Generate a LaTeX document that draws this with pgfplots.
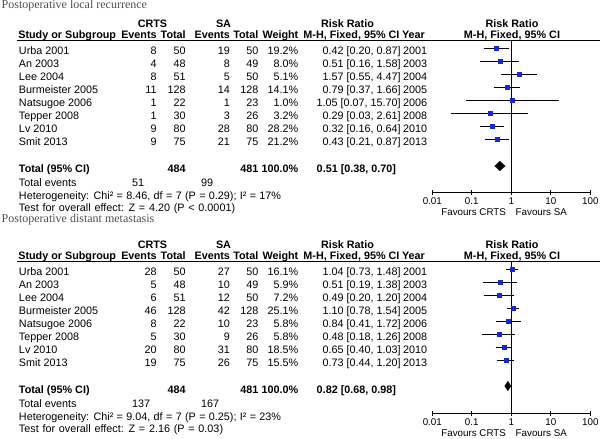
\documentclass[border=0pt]{standalone}
\usepackage{pgfplots}
\pgfplotsset{compat=1.18}
\usepackage{pgfplotstable}
\usepackage{fontspec}
\setmainfont{Liberation Sans}
\newfontfamily\titlefont{Liberation Serif}
\definecolor{sqblue}{RGB}{20,40,215}
\definecolor{titlegray}{RGB}{80,80,80}

% squares: relative-risk, row position (negative pixel rows), half side of square
\pgfplotstableread{
rr   y      s
0.42 -48.5  2.5
0.51 -61.5  1.65
1.57 -74.5  1.35
0.79 -87.5  2.15
1.05 -100.5 1.0
0.29 -113.5 1.05
0.32 -126.5 3.05
0.43 -139.5 2.6
}\topdata
\pgfplotstableread{
rr   y      s
1.04 -48.5  2.3
0.51 -61.5  1.4
0.49 -74.5  1.55
1.10 -87.5  2.9
0.84 -100.5 1.4
0.48 -113.5 1.4
0.65 -126.5 2.45
0.73 -139.5 2.25
}\botdata

\newcommand\row[9]{%
  \node[anchor=base west] at (19,#1) {#2};
  \node[anchor=base east] at (156.7,#1) {#3};
  \node[anchor=base east] at (185.7,#1) {#4};
  \node[anchor=base east] at (230,#1) {#5};
  \node[anchor=base east] at (258.3,#1) {#6};
  \node[anchor=base east] at (298.3,#1) {#7\%};
  \node[anchor=base east] at (400.7,#1) {#8};
  \node[anchor=base west] at (403,#1) {#9};
}
\newcommand\headers{%
  \node[anchor=base] at (152.5,27.2) {\bfseries CRTS};
  \node[anchor=base] at (223.5,27.2) {\bfseries SA};
  \node[anchor=base] at (347.5,27.2) {\bfseries Risk Ratio};
  \node[anchor=base] at (512,27.2) {\bfseries Risk Ratio};
  \node[anchor=base west] at (18.3,39) {\bfseries Study or Subgroup};
  \node[anchor=base east] at (156.7,39) {\bfseries Events};
  \node[anchor=base east] at (185.7,39) {\bfseries Total};
  \node[anchor=base east] at (230,39) {\bfseries Events};
  \node[anchor=base east] at (258.3,39) {\bfseries Total};
  \node[anchor=base east] at (298.3,39) {\bfseries Weight};
  \node[anchor=base east] at (399.5,39) {\bfseries M-H, Fixed, 95\% CI};
  \node[anchor=base west] at (402,39) {\bfseries Year};
  \node[anchor=base] at (512,39) {\bfseries M-H, Fixed, 95\% CI};
  \draw[line width=0.9pt] (17,40.8) -- (600,40.8);
  \node[anchor=base east,font=\fontsize{9.8}{11}\selectfont] at (506,215.7) {Favours CRTS};
  \node[anchor=base west,font=\fontsize{9.8}{11}\selectfont] at (515.7,215.7) {Favours SA};
}

\pgfplotsset{forest/.style={
  scale only axis, width=158pt, height=151.9pt, anchor=south west,
  xmin=0.01, xmax=100, ymin=-192.7, ymax=-40.8,
  axis x line*=bottom, axis y line=none, ytick=\empty,
  xtick={0.01,0.1,1,10,100}, xticklabels={0.01,0.1,1,10,100},
  xminorticks=false, tick align=center, major tick length=4.5pt,
  axis line style={black, line width=0.8pt},
  every tick/.style={black, line width=0.8pt},
  xticklabel style={font=\fontsize{9.8}{11}\selectfont, inner sep=0pt, anchor=north, yshift=-2.6pt},
  /pgf/number format/assume math mode=true,
  clip=false,
}}

\begin{document}
\begin{tikzpicture}
\useasboundingbox (0,0) rectangle (600pt,439pt);

% ---------- top panel ----------
\begin{semilogxaxis}[forest, at={(432.3pt,246.3pt)}]
\addplot[black, line width=0.8pt] coordinates {(1,-40.8) (1,-192.7)};
\addplot[black, line width=0.8pt, unbounded coords=jump] coordinates {
(0.20,-48.5) (0.87,-48.5) (1,nan)
(0.16,-61.5) (1.58,-61.5) (1,nan)
(0.55,-74.5) (4.47,-74.5) (1,nan)
(0.37,-87.5) (1.66,-87.5) (1,nan)
(0.07,-100.5) (15.70,-100.5) (1,nan)
(0.03,-113.5) (2.61,-113.5) (1,nan)
(0.16,-126.5) (0.64,-126.5) (1,nan)
(0.21,-139.5) (0.87,-139.5)
};
\addplot[scatter, only marks, mark=square*,
  visualization depends on={\thisrow{s} \as \msz},
  scatter/@pre marker code/.append style={/tikz/mark size=\msz},
  scatter/use mapped color={draw=sqblue, fill=sqblue}] table[x=rr, y=y] {\topdata};
\addplot[fill=black, draw=black, line width=0.3pt] coordinates {(0.38,-166) (0.51,-161.2) (0.70,-166) (0.51,-170.8) (0.38,-166)};
\end{semilogxaxis}

% ---------- bottom panel ----------
\begin{semilogxaxis}[forest, at={(432.3pt,25.3pt)}]
\addplot[black, line width=0.8pt] coordinates {(1,-40.8) (1,-192.7)};
\addplot[black, line width=0.8pt, unbounded coords=jump] coordinates {
(0.73,-48.5) (1.48,-48.5) (1,nan)
(0.19,-61.5) (1.38,-61.5) (1,nan)
(0.20,-74.5) (1.20,-74.5) (1,nan)
(0.78,-87.5) (1.54,-87.5) (1,nan)
(0.41,-100.5) (1.72,-100.5) (1,nan)
(0.18,-113.5) (1.26,-113.5) (1,nan)
(0.40,-126.5) (1.03,-126.5) (1,nan)
(0.44,-139.5) (1.20,-139.5)
};
\addplot[scatter, only marks, mark=square*,
  visualization depends on={\thisrow{s} \as \msz},
  scatter/@pre marker code/.append style={/tikz/mark size=\msz},
  scatter/use mapped color={draw=sqblue, fill=sqblue}] table[x=rr, y=y] {\botdata};
\addplot[fill=black, draw=black, line width=0.3pt] coordinates {(0.68,-165) (0.82,-160.2) (0.98,-165) (0.82,-169.8) (0.68,-165)};
\end{semilogxaxis}

% ---------- text, top ----------
\begin{scope}[x=1pt, y=-1pt, yshift=439pt, every node/.style={inner sep=0pt, outer sep=0pt}, font=\fontsize{10.8}{12}\selectfont]
\node[anchor=base west, font=\titlefont\fontsize{12}{13}\selectfont, text=titlegray] at (1.7,8.5) {Postoperative local recurrence};
\headers
\row{54.7}{Urba 2001}{8}{50}{19}{50}{19.2}{0.42 [0.20, 0.87]}{2001}
\row{67.7}{An 2003}{4}{48}{8}{49}{8.0}{0.51 [0.16, 1.58]}{2003}
\row{80.7}{Lee 2004}{8}{51}{5}{50}{5.1}{1.57 [0.55, 4.47]}{2004}
\row{93.7}{Burmeister 2005}{11}{128}{14}{128}{14.1}{0.79 [0.37, 1.66]}{2005}
\row{106.7}{Natsugoe 2006}{1}{22}{1}{23}{1.0}{1.05 [0.07, 15.70]}{2006}
\row{119.7}{Tepper 2008}{1}{30}{3}{26}{3.2}{0.29 [0.03, 2.61]}{2008}
\row{132.7}{Lv 2010}{9}{80}{28}{80}{28.2}{0.32 [0.16, 0.64]}{2010}
\row{145.7}{Smit 2013}{9}{75}{21}{75}{21.2}{0.43 [0.21, 0.87]}{2013}
\node[anchor=base west] at (19,172.7) {\bfseries Total (95\% CI)};
\node[anchor=base east] at (185.7,172.7) {\bfseries 484};
\node[anchor=base east] at (258.3,172.7) {\bfseries 481};
\node[anchor=base east] at (298.3,172.7) {\bfseries 100.0\%};
\node[anchor=base east] at (396,172.7) {\bfseries 0.51 [0.38, 0.70]};
\node[anchor=base west] at (19,186.2) {Total events};
\node[anchor=base west] at (132,186.2) {51};
\node[anchor=base west] at (201,186.2) {99};
\node[anchor=base west] at (19,199.3) {\spaceskip=0.31em\relax Heterogeneity: Chi² = 8.46, df = 7 (P = 0.29); I² = 17\%};
\node[anchor=base west] at (19,212) {\spaceskip=0.35em\relax Test for overall effect: Z = 4.20 (P < 0.0001)};
\end{scope}

% ---------- text, bottom ----------
\begin{scope}[x=1pt, y=-1pt, yshift=218pt, every node/.style={inner sep=0pt, outer sep=0pt}, font=\fontsize{10.8}{12}\selectfont]
\node[anchor=base west, font=\titlefont\fontsize{12}{13}\selectfont, text=titlegray] at (1.7,1.5) {Postoperative distant metastasis};
\headers
\row{54.7}{Urba 2001}{28}{50}{27}{50}{16.1}{1.04 [0.73, 1.48]}{2001}
\row{67.7}{An 2003}{5}{48}{10}{49}{5.9}{0.51 [0.19, 1.38]}{2003}
\row{80.7}{Lee 2004}{6}{51}{12}{50}{7.2}{0.49 [0.20, 1.20]}{2004}
\row{93.7}{Burmeister 2005}{46}{128}{42}{128}{25.1}{1.10 [0.78, 1.54]}{2005}
\row{106.7}{Natsugoe 2006}{8}{22}{10}{23}{5.8}{0.84 [0.41, 1.72]}{2006}
\row{119.7}{Tepper 2008}{5}{30}{9}{26}{5.8}{0.48 [0.18, 1.26]}{2008}
\row{132.7}{Lv 2010}{20}{80}{31}{80}{18.5}{0.65 [0.40, 1.03]}{2010}
\row{145.7}{Smit 2013}{19}{75}{26}{75}{15.5}{0.73 [0.44, 1.20]}{2013}
\node[anchor=base west] at (19,172.7) {\bfseries Total (95\% CI)};
\node[anchor=base east] at (185.7,172.7) {\bfseries 484};
\node[anchor=base east] at (258.3,172.7) {\bfseries 481};
\node[anchor=base east] at (298.3,172.7) {\bfseries 100.0\%};
\node[anchor=base east] at (396,172.7) {\bfseries 0.82 [0.68, 0.98]};
\node[anchor=base west] at (19,186.2) {Total events};
\node[anchor=base west] at (132,186.2) {137};
\node[anchor=base west] at (201,186.2) {167};
\node[anchor=base west] at (19,199.3) {\spaceskip=0.31em\relax Heterogeneity: Chi² = 9.04, df = 7 (P = 0.25); I² = 23\%};
\node[anchor=base west] at (19,212) {\spaceskip=0.35em\relax Test for overall effect: Z = 2.16 (P = 0.03)};
\end{scope}
\end{tikzpicture}
\end{document}
